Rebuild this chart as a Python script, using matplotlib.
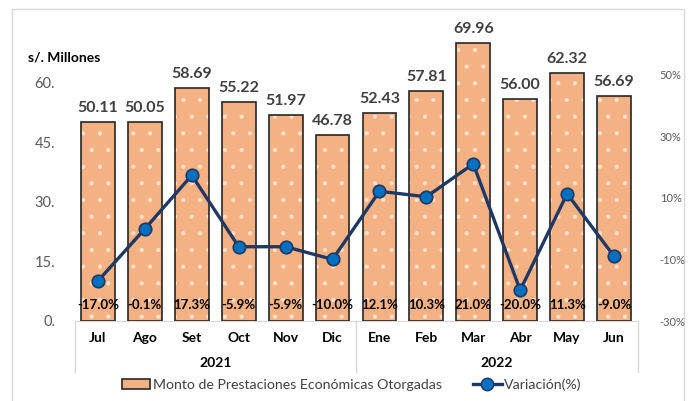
import matplotlib
matplotlib.use("Agg")
import matplotlib.pyplot as plt
from matplotlib.patches import Patch
from matplotlib.lines import Line2D
import matplotlib.transforms as mtransforms

plt.rcParams['font.family'] = ['Lato', 'DejaVu Sans']
plt.rcParams['hatch.linewidth'] = 0.6

months = ["Jul", "Ago", "Set", "Oct", "Nov", "Dic", "Ene", "Feb", "Mar", "Abr", "May", "Jun"]
years = ["2021", "2022"]
year_groups = [(0, 5), (6, 11)]
montos = [50.11, 50.05, 58.69, 55.22, 51.97, 46.78, 52.43, 57.81, 69.96, 56.00, 62.32, 56.69]
variacion = [-17.0, -0.1, 17.3, -5.9, -5.9, -10.0, 12.1, 10.3, 21.0, -20.0, 11.3, -9.0]
left_ticks = [0, 15, 30, 45, 60]
left_tick_labels = ["0.", "15.", "30.", "45.", "60."]
right_ticks = [-30, -10, 10, 30, 50]
right_tick_labels = ["-30%", "-10%", "10%", "30%", "50%"]

W, H = 689, 401
fig = plt.figure(figsize=(W / 100, H / 100), dpi=100)

# chart frame
frame = plt.Rectangle((12 / W, -0.05), (684 - 12) / W, (401 - 9) / H + 0.05,
                      transform=fig.transFigure, fill=False, edgecolor="#D9D9D9", lw=1)
fig.patches.append(frame)

ax_l, ax_r = 74.5, 637.5
y0, ytop = 321, 27
ax = fig.add_axes([ax_l / W, (H - y0) / H, (ax_r - ax_l) / W, (y0 - ytop) / H])
x = list(range(len(months)))

bar_color = "#F4B183"
ax.bar(x, montos, width=0.72, color=bar_color, edgecolor="#FBE0CC", hatch=".", linewidth=0, zorder=2)
ax.bar(x, montos, width=0.72, fill=False, edgecolor="#262626", linewidth=1.2, zorder=3)
ax.set_xlim(-0.5, len(months) - 0.5)
ax.set_ylim(0, 74)
ax.set_yticks(left_ticks)
ax.set_yticklabels(left_tick_labels, color="#595959", fontsize=10.5)
ax.tick_params(axis="y", length=0, pad=14)
ax.set_xticks([])
for s in ["top", "right", "left"]:
    ax.spines[s].set_visible(False)
ax.spines["bottom"].set_color("#D9D9D9")

for xi, v in zip(x, montos):
    ax.annotate(f"{v:.2f}", (xi, v), xytext=(0, 5), textcoords="offset points",
                ha="center", va="bottom", fontsize=11.5, fontweight="bold", color="#404040")

ax2 = ax.twinx()
ax2.plot(x, variacion, color="#203864", lw=2.4, marker="o", markersize=9,
         markerfacecolor="#0070C0", markeredgecolor="#203864", markeredgewidth=1.2, zorder=5)
ax2.set_ylim(-30, 65.4)
ax2.set_yticks(right_ticks)
ax2.set_yticklabels(right_tick_labels, color="#595959", fontsize=8)
ax2.tick_params(axis="y", length=0, pad=16)
for s in ["top", "right", "left", "bottom"]:
    ax2.spines[s].set_visible(False)
ax.set_zorder(1)
ax2.set_zorder(2)
ax2.patch.set_visible(False)

for xi, v in zip(x, variacion):
    ax.text(xi, 4.0, f"{v:.1f}%", ha="center", va="center", fontsize=9.5,
            fontweight="bold", color="black", zorder=6)

# category axis (two levels)
trans = mtransforms.blended_transform_factory(ax.transData, ax.transAxes)
yb = -(372 - y0) / (y0 - ytop)
for xs in [-0.5, 5.5, 11.5]:
    ax.add_line(Line2D([xs, xs], [0, yb], transform=trans, color="#D9D9D9", lw=1, clip_on=False))
ym = -(338 - y0) / (y0 - ytop)
yy = -(363 - y0) / (y0 - ytop)
for xi, m in zip(x, months):
    ax.text(xi, ym, m, transform=trans, ha="center", va="center", fontsize=10,
            fontweight="bold", color="black")
for yr, (a, b) in zip(years, year_groups):
    ax.text((a + b) / 2, yy, yr, transform=trans, ha="center", va="center", fontsize=10,
            fontweight="bold", color="black")

fig.text(28 / W, (H - 58) / H, "s/. Millones", fontsize=10, fontweight="bold", va="center", ha="left")

handles = [Patch(facecolor=bar_color, edgecolor="#262626", linewidth=1.2),
           Line2D([0], [0], color="#203864", lw=2.4, marker="o", markersize=9,
                  markerfacecolor="#0070C0", markeredgecolor="#203864")]
labels = ["Monto de Prestaciones Económicas Otorgadas", "Variación(%)"]
fig.legend(handles, labels, loc="center", bbox_to_anchor=(352 / W, (H - 385) / H), ncol=2,
           frameon=False, fontsize=10.2, handlelength=2.0, handletextpad=0.2, columnspacing=2.2,
           labelcolor="#404040")

fig.savefig("out.png", dpi=100)
